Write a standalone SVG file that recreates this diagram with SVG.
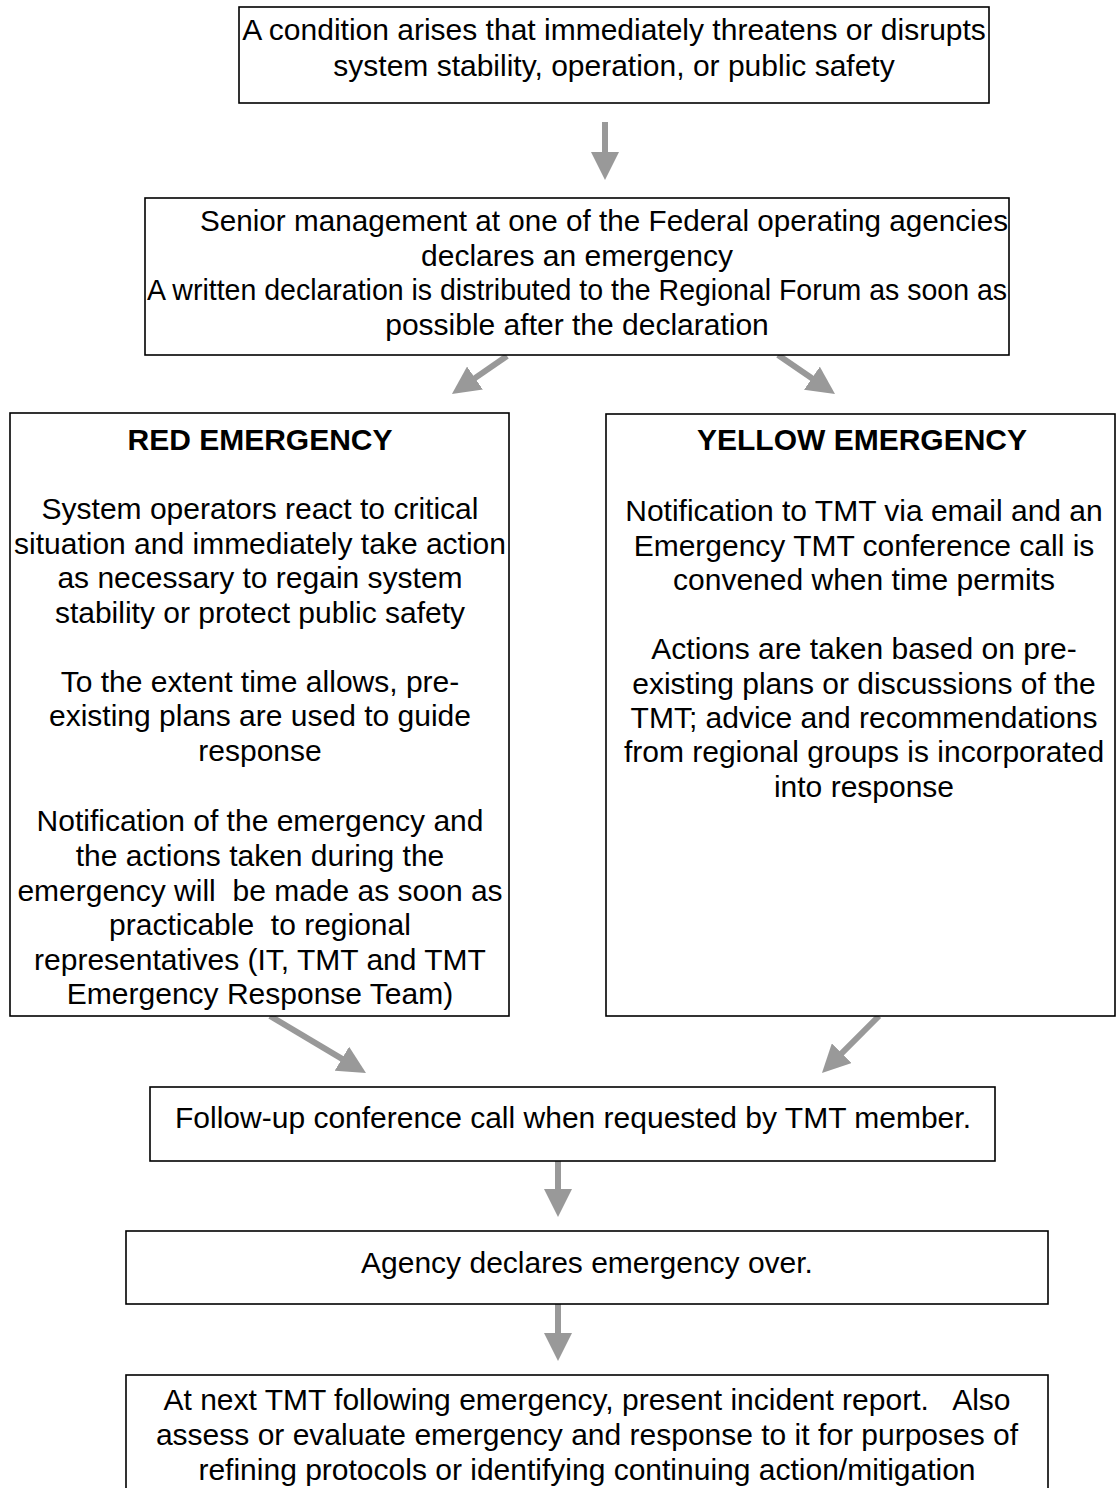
<svg xmlns="http://www.w3.org/2000/svg" width="1116" height="1488" viewBox="0 0 1116 1488">
<style>
.box{fill:#fff;stroke:#000;stroke-width:1.6}
.t{font-family:"Liberation Sans",Arial,sans-serif;font-size:30px;fill:#000;text-anchor:middle}
.h{font-weight:bold}
.arr{stroke:#999;stroke-width:6;fill:none}
</style>
<defs>
<marker id="ah" viewBox="0 0 28 28" markerUnits="userSpaceOnUse" markerWidth="28" markerHeight="28" refX="8" refY="14" orient="auto">
<path d="M0,0 L28,14 L0,28 z" fill="#999"/>
</marker>
</defs>
<rect width="1116" height="1488" fill="#fff"/>
<g id="connectors">
<line class="arr" x1="605" y1="122" x2="605" y2="160" marker-end="url(#ah)"/>
<line class="arr" x1="507" y1="356" x2="468.4" y2="382.6" marker-end="url(#ah)"/>
<line class="arr" x1="778" y1="355" x2="818.5" y2="382.7" marker-end="url(#ah)"/>
<line class="arr" x1="270" y1="1016" x2="348.8" y2="1062.8" marker-end="url(#ah)"/>
<line class="arr" x1="879" y1="1016" x2="836.1" y2="1058.9" marker-end="url(#ah)"/>
<line class="arr" x1="558" y1="1161" x2="558" y2="1197" marker-end="url(#ah)"/>
<line class="arr" x1="558" y1="1304" x2="558" y2="1341" marker-end="url(#ah)"/>
</g>
<g id="n1">
<rect class="box" x="239" y="7" width="750" height="96"/>
<text class="t" x="614" y="40">A condition arises that immediately threatens or disrupts</text>
<text class="t" x="614" y="76">system stability, operation, or public safety</text>
</g>
<g id="n2">
<rect class="box" x="145" y="198" width="864" height="157"/>
<text class="t" x="604" y="231" textLength="808" lengthAdjust="spacingAndGlyphs">Senior management at one of the Federal operating agencies</text>
<text class="t" x="577" y="266">declares an emergency</text>
<text class="t" x="577" y="300" textLength="860" lengthAdjust="spacingAndGlyphs">A written declaration is distributed to the Regional Forum as soon as</text>
<text class="t" x="577" y="335">possible after the declaration</text>
</g>
<g id="n3">
<rect class="box" x="10" y="413" width="499" height="603"/>
<text class="t h" x="260" y="450">RED EMERGENCY</text>
<text class="t" x="260" y="519">System operators react to critical</text>
<text class="t" x="260" y="554">situation and immediately take action</text>
<text class="t" x="260" y="588">as necessary to regain system</text>
<text class="t" x="260" y="623">stability or protect public safety</text>
<text class="t" x="260" y="692">To the extent time allows, pre-</text>
<text class="t" x="260" y="726">existing plans are used to guide</text>
<text class="t" x="260" y="761">response</text>
<text class="t" x="260" y="831">Notification of the emergency and</text>
<text class="t" x="260" y="866">the actions taken during the</text>
<text class="t" x="260" y="901" xml:space="preserve">emergency will  be made as soon as</text>
<text class="t" x="260" y="935" xml:space="preserve">practicable  to regional</text>
<text class="t" x="260" y="970">representatives (IT, TMT and TMT</text>
<text class="t" x="260" y="1004">Emergency Response Team)</text>
</g>
<g id="n4">
<rect class="box" x="606" y="414" width="509" height="602"/>
<text class="t h" x="862" y="450">YELLOW EMERGENCY</text>
<text class="t" x="864" y="521">Notification to TMT via email and an</text>
<text class="t" x="864" y="556">Emergency TMT conference call is</text>
<text class="t" x="864" y="590">convened when time permits</text>
<text class="t" x="864" y="659">Actions are taken based on pre-</text>
<text class="t" x="864" y="694">existing plans or discussions of the</text>
<text class="t" x="864" y="728">TMT; advice and recommendations</text>
<text class="t" x="864" y="762">from regional groups is incorporated</text>
<text class="t" x="864" y="797">into response</text>
</g>
<g id="n5">
<rect class="box" x="150" y="1087" width="845" height="74"/>
<text class="t" x="573" y="1128">Follow-up conference call when requested by TMT member.</text>
</g>
<g id="n6">
<rect class="box" x="126" y="1231" width="922" height="73"/>
<text class="t" x="587" y="1273">Agency declares emergency over.</text>
</g>
<g id="n7">
<rect class="box" x="126" y="1375" width="922" height="130"/>
<text class="t" x="587" y="1410" xml:space="preserve">At next TMT following emergency, present incident report.   Also</text>
<text class="t" x="587" y="1445">assess or evaluate emergency and response to it for purposes of</text>
<text class="t" x="587" y="1480">refining protocols or identifying continuing action/mitigation</text>
</g>
</svg>
